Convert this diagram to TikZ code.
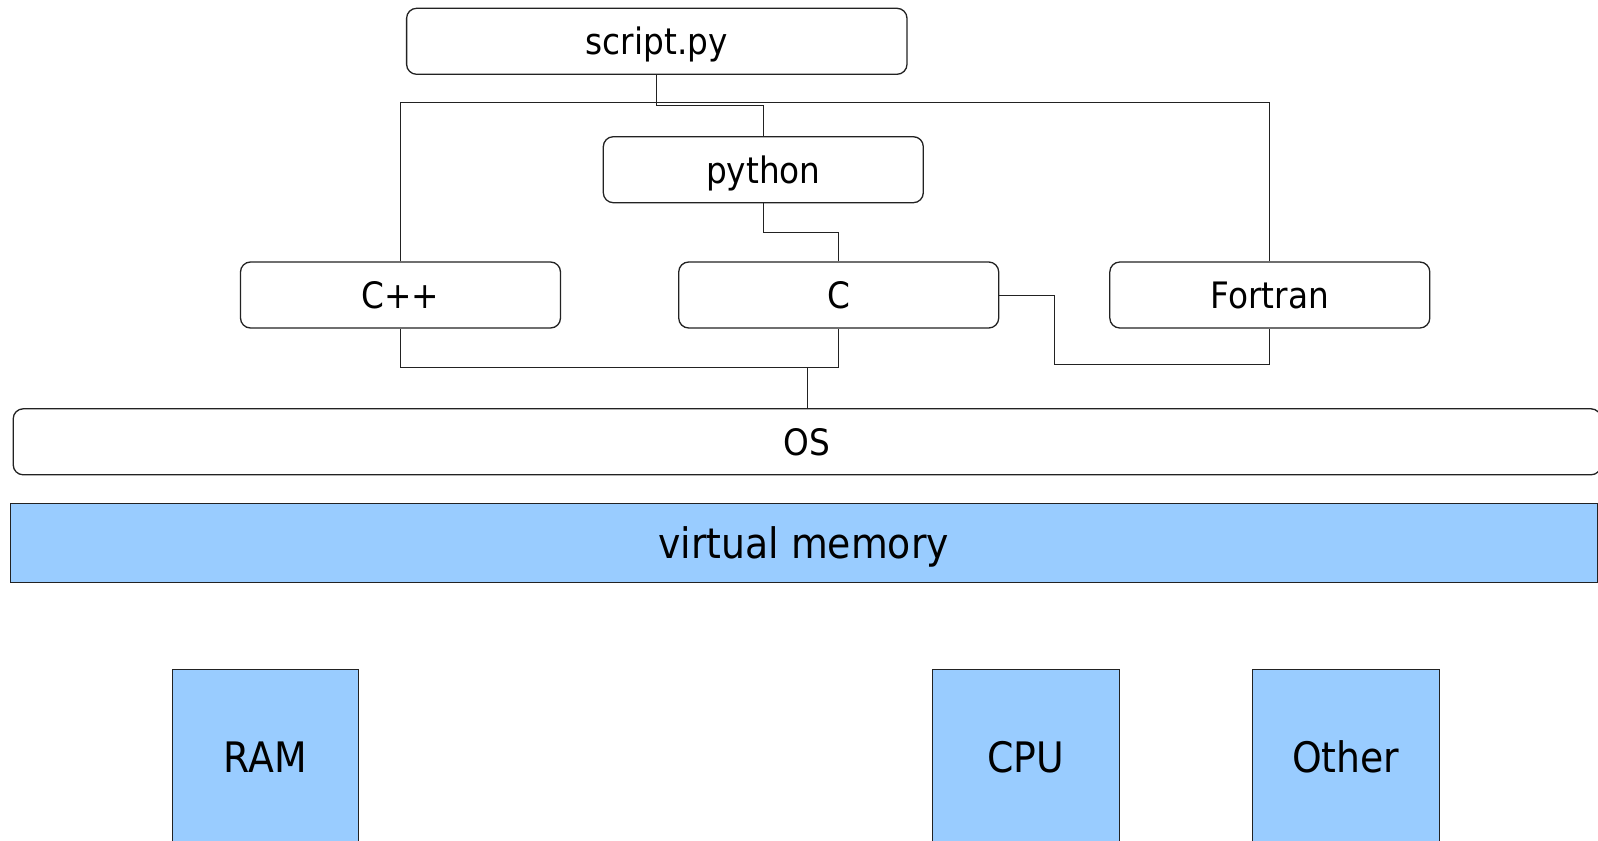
\documentclass[tikz,border=0pt]{standalone}
\usepackage{fontspec}
\setmainfont{DejaVu Sans}[FakeStretch=0.9]
\definecolor{boxblue}{HTML}{99CCFF}
\definecolor{edge}{HTML}{222222}
\tikzset{
  rbox/.style={draw=edge, line width=0.65pt, rounded corners=5pt, fill=white,
    minimum height=33pt, inner sep=0pt, text height=13.6pt, text depth=0pt,
    font=\fontsize{18.2}{22}\selectfont},
  bbox/.style={draw=edge, line width=0.5pt, fill=boxblue, inner sep=0pt,
    text height=15.7pt, text depth=0pt, font=\fontsize{21}{25}\selectfont},
  link/.style={draw=edge, line width=0.5pt},
}
\begin{document}
\begin{tikzpicture}[x=0.5pt,y=-0.5pt]
\clip (0,0) rectangle (1598,840);
\fill[white] (0,0) rectangle (1598,840);
% nodes
\node[rbox, minimum width=250.2pt] (script) at (656.8,41.3) {script.py};
\node[rbox, minimum width=160pt] (python) at (763.3,169.7) {python};
\node[rbox, minimum width=160pt] (cpp) at (400.5,295) {C++};
\node[rbox, minimum width=160pt] (c) at (838.7,295) {C};
\node[rbox, minimum width=160pt] (fortran) at (1269.8,295) {Fortran};
\node[rbox, minimum width=793.9pt] (os) at (807.1,441.8) {OS};
\node[bbox, minimum width=793.4pt, minimum height=39.75pt] (vm) at (803.6,543.2) {virtual memory};
\node[bbox, minimum width=93.25pt, minimum height=87.5pt] (ram) at (265.5,757) {RAM};
\node[bbox, minimum width=93.25pt, minimum height=87.5pt] (cpu) at (1025.8,757) {CPU};
\node[bbox, minimum width=93.25pt, minimum height=87.5pt] (other) at (1345.8,757) {Other};
% junction coordinates
\coordinate (top) at (0,102.9);
\coordinate (pyj) at (0,105.4);
\coordinate (cj) at (0,232.4);
\coordinate (cr) at (1054,364.8);
\coordinate (bot) at (0,367.9);
\coordinate (osj) at (807.1,367.9);
% connectors
\draw[link] (cpp.north) |- (fortran.north |- top) -- (fortran.north);
\draw[link] (script.south) -- (script.south |- pyj) -| (python.north);
\draw[link] (python.south) -- (python.south |- cj) -| (c.north);
\draw[link] (c.east) -| (cr) -| (fortran.south);
\draw[link] (cpp.south) |- (c.south |- bot) -- (c.south);
\draw[link] (osj) -- (os.north);
\end{tikzpicture}
\end{document}
